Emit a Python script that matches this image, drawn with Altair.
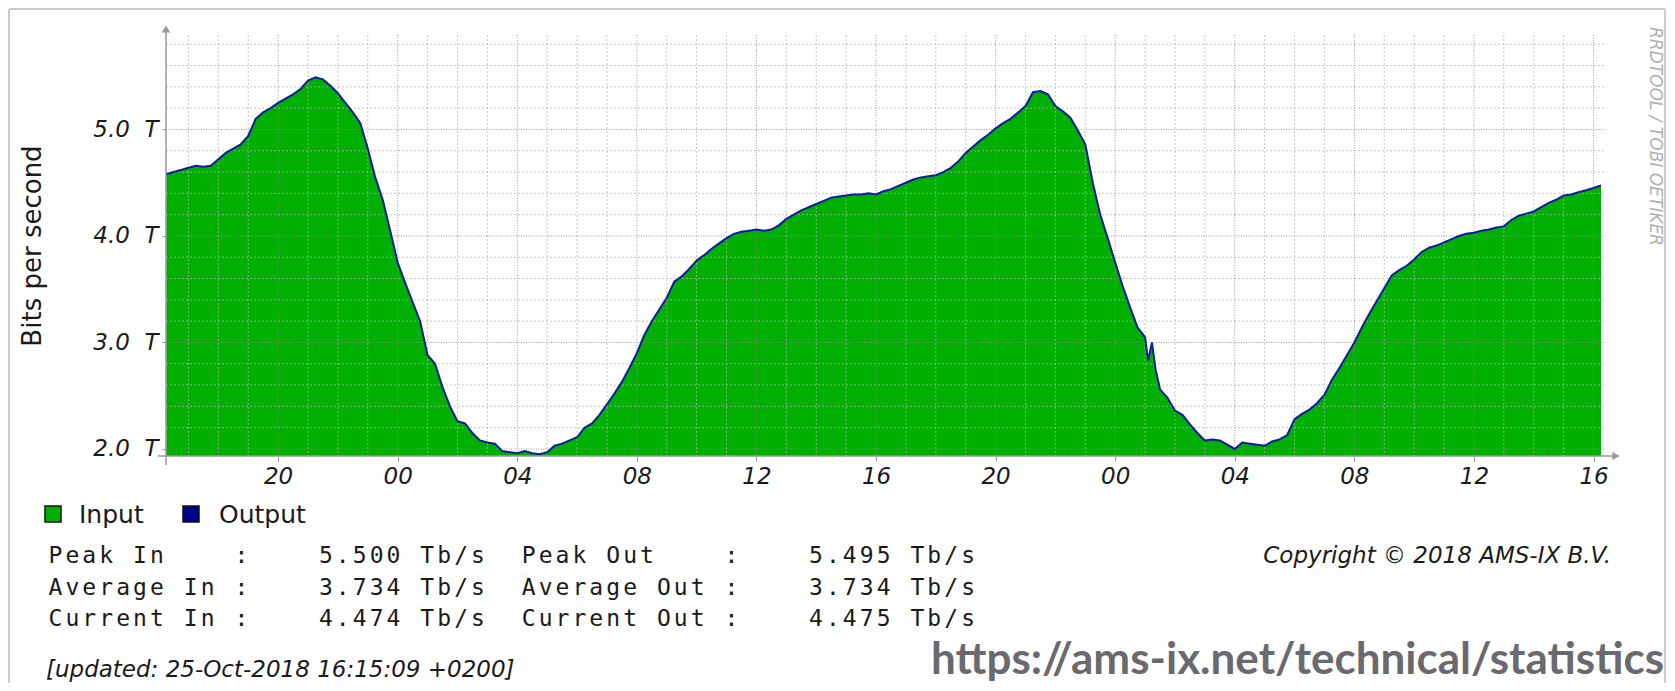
import altair as alt
import pandas as pd

# ---------------- data ----------------
# hours since 23-Oct-2018 00:00 (+0200): 16.25 = 16:15 on 23-Oct, 64.25 = 16:15 on 25-Oct
hours = [
    16.25, 16.5, 16.75, 17.0, 17.25, 17.5, 17.75, 18.0, 18.25, 18.5, 18.75, 19.0, 19.25, 19.5, 19.75,
    20.0, 20.25, 20.5, 20.75, 21.0, 21.25, 21.5, 21.75, 22.0, 22.25, 22.5, 22.75, 23.0, 23.25, 23.5, 23.75,
    24.0, 24.25, 24.5, 24.75, 25.0, 25.25, 25.5, 25.75, 26.0, 26.25, 26.5, 26.75, 27.0, 27.25, 27.5, 27.75,
    28.0, 28.25, 28.5, 28.75, 29.0, 29.25, 29.5, 29.75, 30.0, 30.25, 30.5, 30.75, 31.0, 31.25, 31.5, 31.75,
    32.0, 32.25, 32.5, 32.75, 33.0, 33.25, 33.5, 33.75, 34.0, 34.25, 34.5, 34.75, 35.0, 35.25, 35.5, 35.75,
    36.0, 36.25, 36.5, 36.75, 37.0, 37.25, 37.5, 37.75, 38.0, 38.25, 38.5, 38.75, 39.0, 39.25, 39.5, 39.75,
    40.0, 40.25, 40.5, 40.75, 41.0, 41.25, 41.5, 41.75, 42.0, 42.25, 42.5, 42.75, 43.0, 43.25, 43.5, 43.75,
    44.0, 44.25, 44.5, 44.75, 45.0, 45.25, 45.5, 45.75, 46.0, 46.25, 46.5, 46.75, 47.0, 47.25, 47.5, 47.75,
    48.0, 48.25, 48.5, 48.75, 49.0, 49.1, 49.23, 49.35, 49.5, 49.75, 50.0, 50.25, 50.5, 50.75, 51.0, 51.25,
    51.5, 51.75, 52.0, 52.25, 52.5, 52.75, 53.0, 53.25, 53.5, 53.75, 54.0, 54.25, 54.5, 54.75, 55.0, 55.25,
    55.5, 55.75, 56.0, 56.25, 56.5, 56.75, 57.0, 57.25, 57.5, 57.75, 58.0, 58.25, 58.5, 58.75, 59.0, 59.25,
    59.5, 59.75, 60.0, 60.25, 60.5, 60.75, 61.0, 61.25, 61.5, 61.75, 62.0, 62.25, 62.5, 62.75, 63.0, 63.25,
    63.5, 63.75, 64.0, 64.25,
]
traffic_tbps = [
    4.58, 4.60, 4.62, 4.64, 4.66, 4.65, 4.66, 4.72, 4.78, 4.82, 4.86, 4.94, 5.10, 5.16, 5.20,
    5.25, 5.29, 5.33, 5.38, 5.46, 5.49, 5.47, 5.41, 5.34, 5.25, 5.16, 5.06, 4.82, 4.55, 4.34, 4.05,
    3.75, 3.56, 3.38, 3.20, 2.88, 2.80, 2.58, 2.40, 2.26, 2.24, 2.15, 2.08, 2.06, 2.05, 1.98, 1.97,
    1.96, 1.98, 1.96, 1.95, 1.97, 2.03, 2.05, 2.08, 2.11, 2.20, 2.24, 2.32, 2.42, 2.52, 2.63, 2.76,
    2.90, 3.07, 3.20, 3.31, 3.42, 3.57, 3.62, 3.69, 3.77, 3.82, 3.88, 3.93, 3.98, 4.02, 4.04, 4.05,
    4.06, 4.05, 4.06, 4.10, 4.16, 4.20, 4.24, 4.27, 4.30, 4.33, 4.36, 4.37, 4.38, 4.39, 4.39, 4.40,
    4.39, 4.42, 4.44, 4.47, 4.50, 4.53, 4.55, 4.56, 4.57, 4.60, 4.64, 4.70, 4.78, 4.84, 4.90, 4.95,
    5.01, 5.06, 5.10, 5.16, 5.22, 5.35, 5.36, 5.33, 5.22, 5.17, 5.11, 4.99, 4.86, 4.50, 4.20, 3.98,
    3.75, 3.53, 3.33, 3.14, 3.05, 2.83, 3.00, 2.75, 2.56, 2.48, 2.36, 2.32, 2.23, 2.15, 2.08, 2.09,
    2.08, 2.04, 2.00, 2.06, 2.05, 2.04, 2.03, 2.07, 2.09, 2.13, 2.28, 2.33, 2.37, 2.43, 2.51, 2.65,
    2.76, 2.88, 3.00, 3.14, 3.27, 3.39, 3.51, 3.63, 3.68, 3.72, 3.78, 3.85, 3.89, 3.91, 3.94, 3.97,
    4.00, 4.02, 4.03, 4.05, 4.06, 4.08, 4.09, 4.15, 4.19, 4.21, 4.23, 4.27, 4.31, 4.34, 4.38, 4.39,
    4.41, 4.43, 4.45, 4.474,
]

y_label_values = [2, 3, 4, 5]
x_label_hours = [20, 24, 28, 32, 36, 40, 44, 48, 52, 56, 60, 64]
major_grid_tbps = [2.0, 3.0, 4.0, 5.0]
minor_grid_tbps = [2.2, 2.4, 2.6, 2.8, 3.2, 3.4, 3.6, 3.8, 4.2, 4.4, 4.6, 4.8, 5.2, 5.4, 5.6, 5.8]
minor_grid_hours = [17, 18, 19, 21, 22, 23, 25, 26, 27, 29, 30, 31, 33, 34, 35, 37, 38, 39, 41, 42, 43,
                    45, 46, 47, 49, 50, 51, 53, 54, 55, 57, 58, 59, 61, 62, 63]

legend_names = ["Input", "Output"]
legend_colors = ["#00b000", "#00008f"]

stat_in_names = ["Peak In", "Average In", "Current In"]
stat_in_values = ["5.500", "3.734", "4.474"]
stat_out_names = ["Peak Out", "Average Out", "Current Out"]
stat_out_values = ["5.495", "3.734", "4.475"]
unit = "Tb/s"

y_title = "Bits per second"
updated_text = "[updated: 25-Oct-2018 16:15:09 +0200]"
copyright_text = "Copyright \u00a9 2018 AMS-IX B.V."
url_text = "https://ams-ix.net/technical/statistics"
watermark_text = "RRDTOOL / TOBI OETIKER"

# ---------------- layout ----------------
W, H = 1435, 421            # plot area
OX, OY = 166, 35            # page position of the plot area
CANVAS_W, CANVAS_H = 1659, 675
PAD = {"left": OX - 8, "top": OY - 8, "right": CANVAS_W - (OX - 8) - W,
       "bottom": CANVAS_H - (OY - 8) - H}

GREEN = "#00b000"
BLUE = "#101c9c"
AXIS_GRAY = "#9a9a9a"
TEXT = "#1a1a1a"
Y_MIN, Y_MAX = 1.934, 5.887

xscale = alt.Scale(domain=[16.25, 64.25], nice=False, zero=False)
yscale = alt.Scale(domain=[Y_MIN, Y_MAX], nice=False, zero=False)

one = pd.DataFrame({"k": [0]})
df = pd.DataFrame({"hour": hours, "tbps": traffic_tbps})


def vx(X):
    return X - OX


def vy(Y):
    return Y - OY


def label(text, X, Y, **kw):
    return alt.Chart(one).mark_text(text=text, **kw).encode(x=alt.value(vx(X)), y=alt.value(vy(Y)))


x_axis = alt.Axis(values=x_label_hours, labelExpr="format(datum.value % 24, '02d')", title=None,
                  domain=False, grid=False, ticks=True, tickSize=5, tickColor=AXIS_GRAY,
                  labelFont="DejaVu Sans", labelFontStyle="italic", labelFontSize=23,
                  labelColor=TEXT, labelPadding=4, labelFlush=False, labelOverlap=False)
y_axis = alt.Axis(values=y_label_values,
                  labelExpr="format(datum.value, '.1f') + '\u00a0\u00a0T'", title=None,
                  domain=False, grid=False, ticks=True, tickSize=4, tickColor=AXIS_GRAY,
                  labelFont="DejaVu Sans", labelFontStyle="italic", labelFontSize=23,
                  labelColor=TEXT, labelPadding=4, labelFlush=False, labelOverlap=False)

area = alt.Chart(df).mark_area(color=GREEN, opacity=1, interpolate="linear").encode(
    x=alt.X("hour:Q", scale=xscale, axis=x_axis),
    y=alt.Y("tbps:Q", scale=yscale, axis=y_axis),
    y2=alt.datum(Y_MIN),
)


def hgrid(vals, **kw):
    return alt.Chart(pd.DataFrame({"v": vals})).mark_rule(**kw).encode(
        y=alt.Y("v:Q", scale=yscale, axis=None), x=alt.value(0), x2=alt.value(W + 5))


def vgrid(vals, **kw):
    return alt.Chart(pd.DataFrame({"h": vals})).mark_rule(**kw).encode(
        x=alt.X("h:Q", scale=xscale, axis=None), y=alt.value(0), y2=alt.value(H))


minor_h = hgrid(minor_grid_tbps, color="#b4b4b4", opacity=0.75, strokeWidth=1, strokeDash=[2, 2])
major_h = hgrid(major_grid_tbps, color="#8c8c8c", opacity=0.85, strokeWidth=1, strokeDash=[1, 1.5])
minor_v = vgrid(minor_grid_hours, color="#b4b4b4", opacity=0.75, strokeWidth=1, strokeDash=[2, 2])
major_v = vgrid(x_label_hours, color="#8c8c8c", opacity=0.85, strokeWidth=1, strokeDash=[1, 1.5])

line = alt.Chart(df).mark_line(color=BLUE, strokeWidth=2, interpolate="linear").encode(
    x=alt.X("hour:Q", scale=xscale, axis=None),
    y=alt.Y("tbps:Q", scale=yscale, axis=None),
)

# axis lines with arrow heads
y_axis_line = alt.Chart(one).mark_rule(color=AXIS_GRAY, strokeWidth=1.5).encode(
    x=alt.value(0), y=alt.value(H + 9), y2=alt.value(-6))
x_axis_line = alt.Chart(one).mark_rule(color=AXIS_GRAY, strokeWidth=1.5).encode(
    x=alt.value(-8), x2=alt.value(W + 14), y=alt.value(H))
y_arrow = alt.Chart(one).mark_point(shape="triangle-up", filled=True, size=70, color=AXIS_GRAY, opacity=1).encode(
    x=alt.value(0), y=alt.value(-6))
x_arrow = alt.Chart(one).mark_point(shape="triangle-right", filled=True, size=70, color=AXIS_GRAY, opacity=1).encode(
    x=alt.value(W + 15), y=alt.value(H))

# border of the rrdtool picture
border_color = "#cdcdcd"
border = [
    alt.Chart(one).mark_rule(color=border_color, strokeWidth=2).encode(
        x=alt.value(vx(9)), y=alt.value(vy(9)), y2=alt.value(vy(683))),
    alt.Chart(one).mark_rule(color=border_color, strokeWidth=2).encode(
        x=alt.value(vx(9)), x2=alt.value(vx(1665)), y=alt.value(vy(9))),
    alt.Chart(one).mark_rule(color=border_color, strokeWidth=2).encode(
        x=alt.value(vx(1665)), y=alt.value(vy(9)), y2=alt.value(vy(683))),
]

# legend
legend_layers = []
legend_x = [45, 183]
legend_tx = [79, 219]
for name, col, lx, tx in zip(legend_names, legend_colors, legend_x, legend_tx):
    legend_layers.append(alt.Chart(one).mark_rect(fill=col, stroke="#111", strokeWidth=1.5).encode(
        x=alt.value(vx(lx)), x2=alt.value(vx(lx + 16)), y=alt.value(vy(506)), y2=alt.value(vy(522))))
    legend_layers.append(label(name, tx, 515, font="DejaVu Sans", fontSize=25, color=TEXT,
                               align="left", baseline="middle"))

# statistics block (fixed-width columns)
CHAR_W = 16.9
row_y = [556, 588, 619]
chars = []
for nin, vin, nout, vout, ry in zip(stat_in_names, stat_in_values, stat_out_names, stat_out_values, row_y):
    row = f"{nin:<11}:    {vin} {unit}  {nout:<12}:    {vout} {unit}"
    for c, ch in enumerate(row):
        if ch != " ":
            chars.append({"ch": ch, "px": vx(47 + (c + 0.5) * CHAR_W), "py": vy(ry)})
stats = alt.Chart(pd.DataFrame(chars)).mark_text(
    font="DejaVu Sans Mono", fontSize=23, color=TEXT, align="center", baseline="middle").encode(
    x=alt.X("px:Q", scale=None, axis=None), y=alt.Y("py:Q", scale=None, axis=None), text="ch:N")

texts = [
    label(y_title, 33, 246, font="DejaVu Sans", fontSize=26, color=TEXT, angle=270,
          align="center", baseline="middle"),
    label(copyright_text, 1611, 556, font="DejaVu Sans", fontStyle="italic", fontSize=23, color=TEXT,
          align="right", baseline="middle"),
    label(updated_text, 46, 670, font="DejaVu Sans", fontStyle="italic", fontSize=23, color=TEXT,
          align="left", baseline="middle"),
    label(watermark_text, 1655, 27, font="DejaVu Sans", fontStyle="italic", fontSize=17, color="#b0b0b0",
          angle=90, align="left", baseline="middle"),
    label(url_text, 1664, 674, font="Lato", fontWeight="bold", fontSize=44, color="#6a6a6e",
          align="right", baseline="alphabetic"),
]

chart = alt.layer(
    area, minor_h, major_h, minor_v, major_v, line,
    y_axis_line, x_axis_line, y_arrow, x_arrow,
    *border, *legend_layers, stats, *texts,
).resolve_scale(x="independent", y="independent").properties(
    width=W, height=H, padding=PAD,
    autosize=alt.AutoSizeParams(type="none"),
    background="white",
).configure_view(stroke=None)

chart.save("out.html", embed_options={"renderer": "svg", "actions": False})
